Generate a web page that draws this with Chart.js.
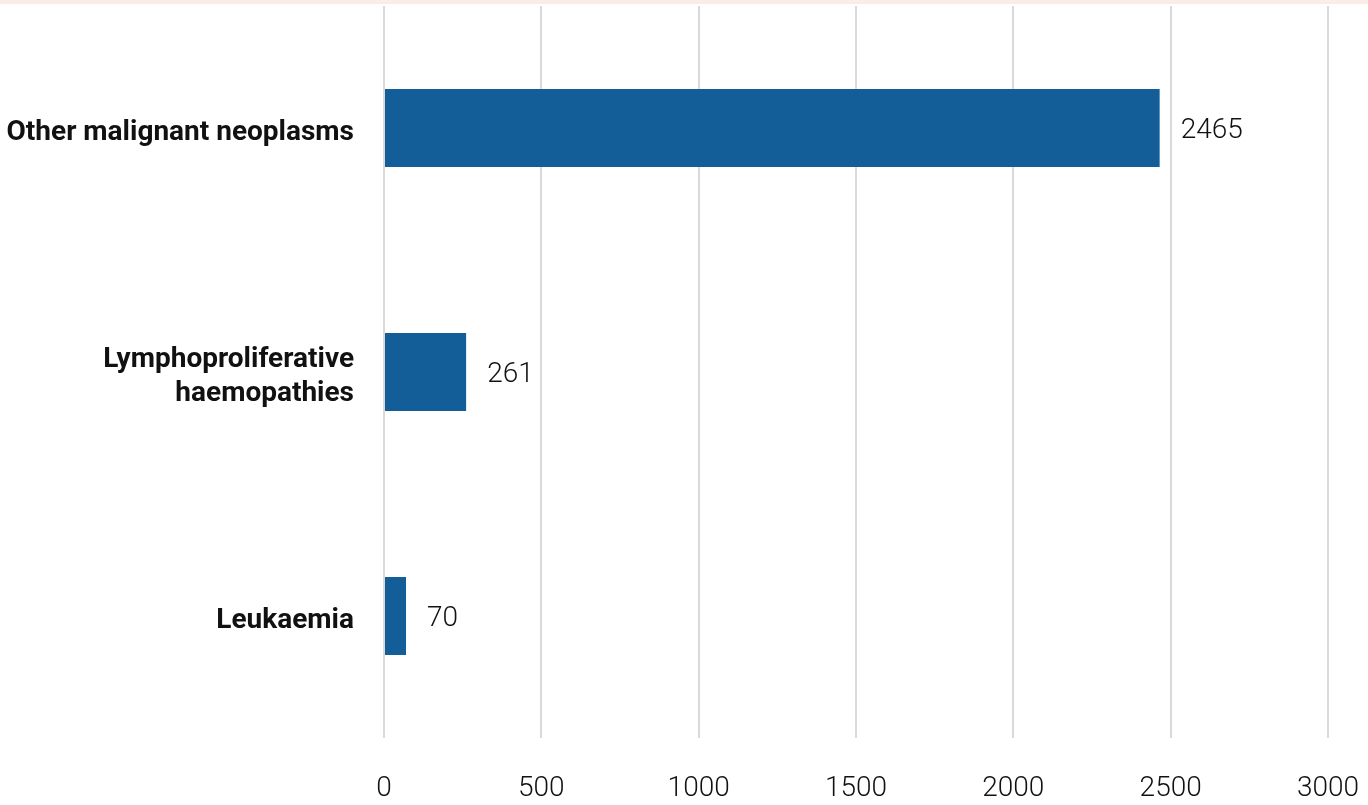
<!DOCTYPE html>
<html>
<head>
<meta charset="utf-8">
<script src="https://cdn.jsdelivr.net/npm/chart.js@4/dist/chart.umd.min.js"></script>
<style>
  html, body { margin: 0; padding: 0; background: #fff; }
  .strip { position: absolute; top: 0; left: 0; width: 1368px; height: 4px; background: #fcece8; }
  #wrap { width: 1368px; height: 805px; position: relative; }
</style>
</head>
<body>
<div id="wrap">
  <canvas id="cancerChart"></canvas>
  <div class="strip"></div>
</div>
<script>
const categories = [
  'Other malignant neoplasms',
  ['Lymphoproliferative', 'haemopathies'],
  'Leukaemia'
];
const cases = [2465, 261, 70];
const xTicks = [0, 500, 1000, 1500, 2000, 2500, 3000];

const BAR_COLOR = '#135e99';
const GRID_COLOR = '#d9d9d9';
const VALUE_FONT = '300 28px Roboto, sans-serif';

// prints each value just right of its bar
const valueLabels = {
  id: 'valueLabels',
  afterDatasetsDraw(chart) {
    const { ctx } = chart;
    const meta = chart.getDatasetMeta(0);
    ctx.save();
    ctx.font = VALUE_FONT;
    ctx.fillStyle = '#111';
    ctx.textAlign = 'left';
    ctx.textBaseline = 'middle';
    meta.data.forEach((bar, i) => {
      ctx.fillText(String(cases[i]), bar.x + 21, bar.y + 3);
    });
    ctx.restore();
  }
};

const config = {
  type: 'bar',
  data: {
    labels: categories,
    datasets: [{
      data: cases,
      backgroundColor: BAR_COLOR,
      borderWidth: 0,
      categoryPercentage: 0.8,
      barPercentage: 0.4
    }]
  },
  options: {
    indexAxis: 'y',
    animation: false,
    responsive: true,
    maintainAspectRatio: false,
    layout: { padding: { top: 6, right: 40, left: 0, bottom: 0 } },
    plugins: {
      legend: { display: false },
      tooltip: { enabled: false }
    },
    scales: {
      x: {
        position: 'bottom',
        min: 0,
        max: 3000,
        afterBuildTicks(scale) {
          scale.ticks = xTicks.map(v => ({ value: v }));
        },
        afterFit(scale) {
          scale.height = 67;
          scale.paddingLeft = 0;
          scale.paddingRight = 0;
        },
        grid: { color: GRID_COLOR, lineWidth: 2, drawTicks: false },
        border: { display: false },
        ticks: {
          padding: 34,
          color: '#111',
          font: { family: 'Roboto, sans-serif', size: 28, weight: 300 },
          callback: v => String(v)
        }
      },
      y: {
        afterFit(scale) {
          scale.width = 384;
          scale.paddingTop = 0;
          scale.paddingBottom = 0;
        },
        grid: { display: false, drawTicks: false },
        border: { display: false },
        ticks: {
          padding: 30,
          labelOffset: 5,
          color: '#111',
          font: { family: 'Roboto, sans-serif', size: 28, weight: 'bold', lineHeight: 1.22 }
        }
      }
    }
  },
  plugins: [valueLabels]
};

new Chart(document.getElementById('cancerChart'), config);
</script>
</body>
</html>
